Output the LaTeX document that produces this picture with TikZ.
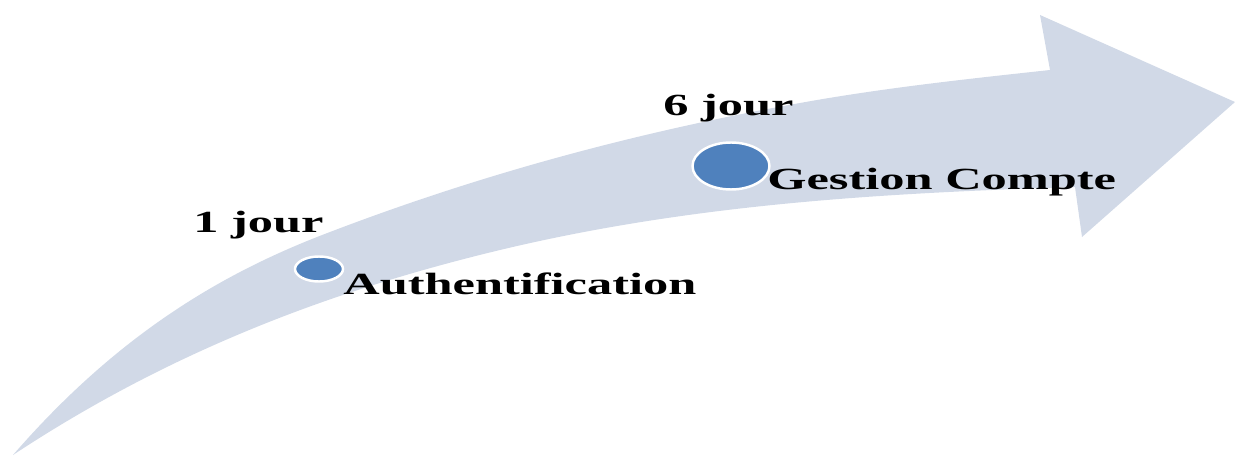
\documentclass[tikz,border=0pt]{standalone}
\usepackage{fontspec}
\newfontfamily\jalonfont{Liberation Serif}[FakeStretch=1.64]
\usetikzlibrary{shapes.geometric}
\definecolor{fleche}{HTML}{D1D9E7}
\definecolor{point}{HTML}{4F81BD}
\begin{document}
\begin{tikzpicture}[x=0.02cm,y=-0.02cm,
	jalon/.style={ellipse,fill=point,draw=white,line width=1.4pt,inner sep=0pt},
	etiquette/.style={anchor=base west,inner sep=0pt,font=\jalonfont\bfseries\fontsize{17.5}{20}\selectfont}]
			\useasboundingbox (0,0) rectangle (1235,456);
			
			% Flèche
			\fill[fleche] (13,455) .. controls (119,333) and (224,272) .. (330,232)
				.. controls (487,172) and (643,131) .. (800,103)
				.. controls (883,88) and (967,79) .. (1050,70)
				-- (1040,15) -- (1235,102) -- (1082,237) -- (1075,187)
				.. controls (883,193) and (692,204) .. (500,250)
				.. controls (338,289) and (175,348) .. (13,455) -- cycle;
			
			% Jalons
			\node[jalon,minimum width=0.96cm,minimum height=0.5cm] (auth) at (319,269) {};
			\node[jalon,minimum width=1.54cm,minimum height=0.94cm] (gest) at (731,166) {};
			
			% Durées
			\node[etiquette] (jour1) at (193,233) {1 jour};
			\node[etiquette] (jour6) at (663,116) {6 jour};
			
			% Tâches
			\node[etiquette] (lauth) at (343,295) {Authentification};
			\node[etiquette] (lgest) at (767,190) {Gestion Compte};
		\end{tikzpicture}
\end{document}
